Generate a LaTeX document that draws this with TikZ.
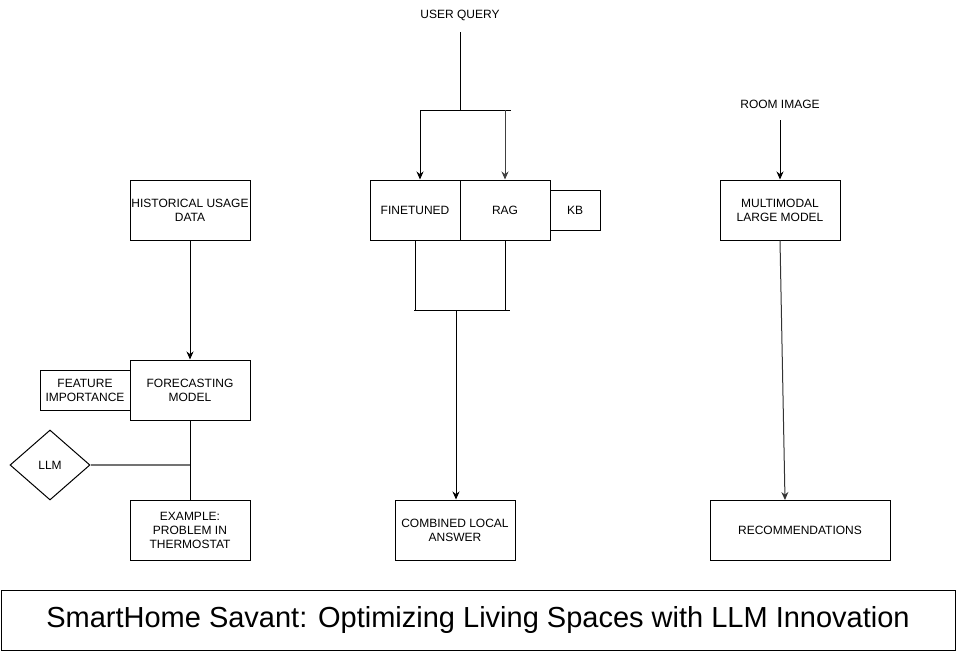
\documentclass[tikz,border=0pt]{standalone}
\usepackage{fontspec}
\setmainfont{Liberation Sans}
\usetikzlibrary{shapes.geometric,arrows.meta}
\begin{document}
\begin{tikzpicture}[x=1pt,y=-1pt,
  box/.style={draw,line width=1pt,align=center,font=\fontsize{12}{14}\selectfont,inner sep=0pt},
  lbl/.style={align=center,font=\fontsize{12}{14}\selectfont,inner sep=0pt},
  conn/.style={line width=1pt},
  arr/.style={conn,-{Stealth[length=8pt,width=7pt]}},
  grayconn/.style={line width=1.2pt,draw=black!55}]
\useasboundingbox (0,0) rectangle (961,651);
% left column
\node[box,minimum width=120pt,minimum height=60pt] (hist) at (190,210) {HISTORICAL USAGE\\DATA};
\node[box,minimum width=120pt,minimum height=60pt] (fore) at (190,390) {FORECASTING\\MODEL};
\node[box,minimum width=90pt,minimum height=40pt] (feat) at (85,390) {FEATURE\\IMPORTANCE};
\node[box,minimum width=120pt,minimum height=60pt] (exam) at (190,530) {EXAMPLE:\\PROBLEM IN\\THERMOSTAT};
\node[draw,diamond,line width=1pt,minimum width=80pt,minimum height=70pt,inner sep=0pt,font=\fontsize{12}{14}\selectfont] (llm) at (50,465) {LLM};
\coordinate (j) at (190,465);
\draw[arr] (hist) -- (fore);
\draw[conn] (fore) -- (exam);
\draw[grayconn] (llm.east) -- (j);
% middle column
\node[lbl] (uq) at (460,15) {USER QUERY};
\node[box,minimum width=90pt,minimum height=60pt] (fine) at (415,210) {FINETUNED};
\node[box,minimum width=90pt,minimum height=60pt] (rag) at (505,210) {RAG};
\node[box,minimum width=50pt,minimum height=40pt] (kb) at (575,210) {KB};
\node[box,minimum width=120pt,minimum height=60pt] (comb) at (455,530) {COMBINED LOCAL\\ANSWER};
\coordinate (t0) at (460,32);
\coordinate (t1) at (460,110);
\coordinate (tl) at (420,110);
\coordinate (tr) at (505,110);
\coordinate (tre) at (511,110);
\draw[conn] (t0) -- (t1);
\draw[conn] (tl) -- (tre);
\draw[arr] (tl) -- (fine.north -| tl);
\draw[arr,draw=black!75] (tr) -- (rag.north);
\coordinate (bl) at (415,310);
\coordinate (br) at (505,310);
\coordinate (ble) at (414,310);
\coordinate (bre) at (510,310);
\coordinate (bm) at (456,310);
\draw[conn] (fine.south -| bl) -- (bl);
\draw[conn] (rag.south) -- (br);
\draw[conn] (ble) -- (bre);
\draw[arr] (bm) -- (comb.north -| bm);
% right column
\node[lbl] (room) at (780,104) {ROOM IMAGE};
\node[box,minimum width=120pt,minimum height=60pt] (mm) at (780,210) {MULTIMODAL\\LARGE MODEL};
\node[box,minimum width=180pt,minimum height=60pt] (rec) at (800,530) {RECOMMENDATIONS};
\coordinate (r0) at (780,120);
\coordinate (r1) at (785,500);
\draw[arr] (r0) -- (mm.north);
\draw[arr,draw=black!80] (mm.south) -- (r1);
% title
\node[draw,line width=1pt,minimum width=954pt,minimum height=60pt,inner sep=0pt,font=\fontsize{29}{33}\selectfont] (title) at (478,620) {SmartHome Savant: Optimizing Living Spaces with LLM Innovation};
\end{tikzpicture}
\end{document}
